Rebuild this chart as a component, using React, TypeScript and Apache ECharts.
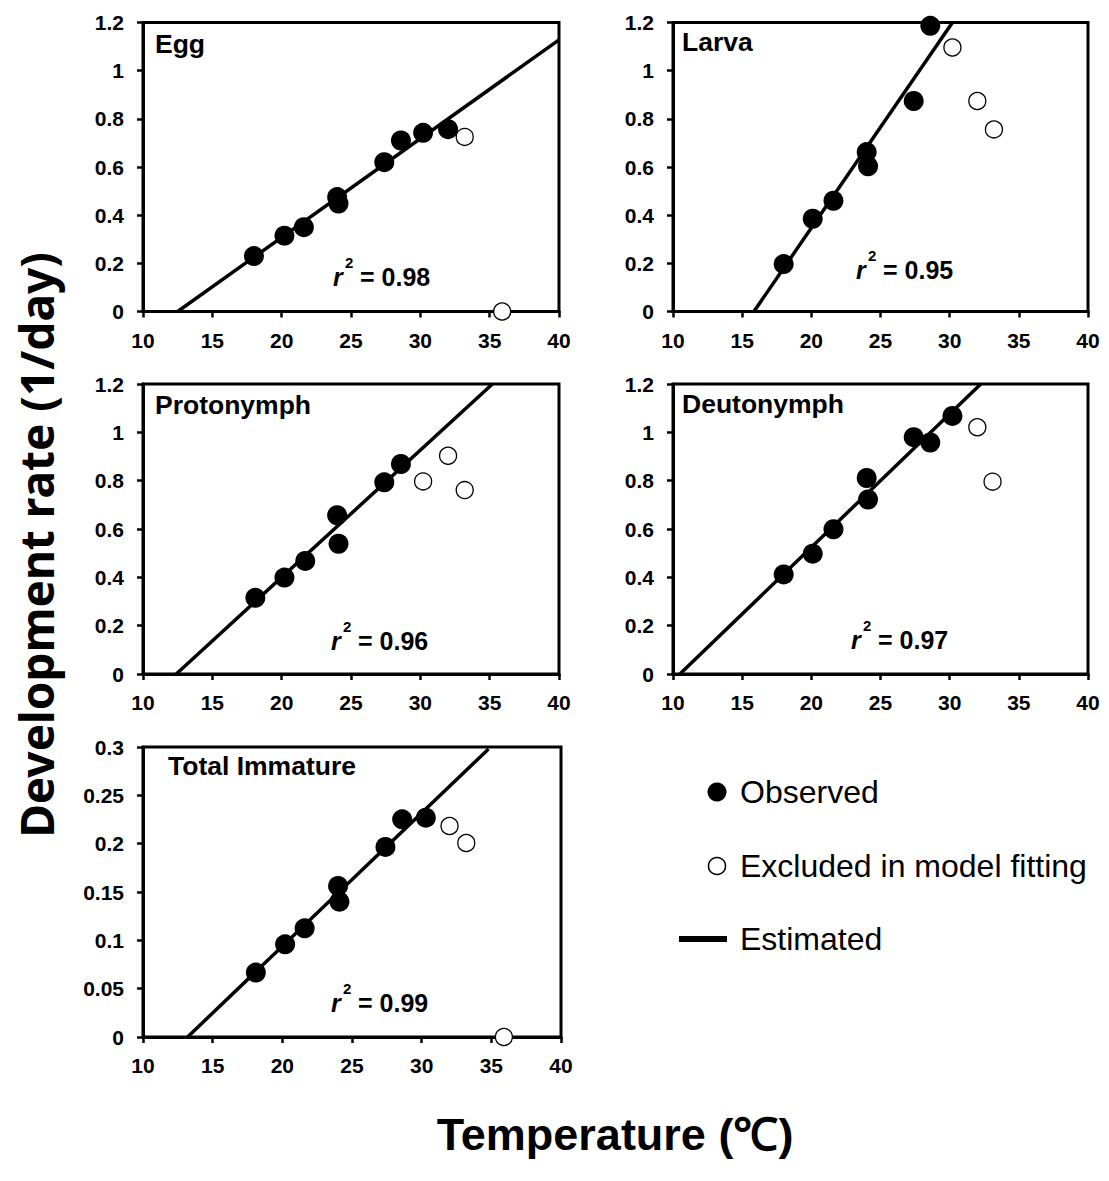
import React, { useEffect, useRef } from "react";
import * as echarts from "echarts";

// ---- Data (temperature °C, development rate 1/day) ----
const panelNames = ["Egg", "Larva", "Protonymph", "Deutonymph", "Total Immature"];
const r2Labels = ["0.98", "0.95", "0.96", "0.97", "0.99"];

const xTicks = { min: 10, max: 40, interval: 5 };
const yTicksStage = { min: 0, max: 1.2, interval: 0.2 };
const yTicksTotal = { min: 0, max: 0.3, interval: 0.05 };

const eggObserved = [[18.0, 0.23], [20.2, 0.315], [21.6, 0.35], [24.0, 0.475], [24.1, 0.448], [27.4, 0.62], [28.6, 0.71], [30.2, 0.742], [32.0, 0.757]];
const eggExcluded = [[33.2, 0.725], [35.9, 0]];
const eggEstimated = [[12.5, 0], [40, 1.128]];

const larvaObserved = [[18.0, 0.197], [20.1, 0.385], [21.6, 0.46], [24.0, 0.662], [24.1, 0.603], [27.4, 0.874], [28.6, 1.186]];
const larvaExcluded = [[30.2, 1.096], [32.0, 0.874], [33.2, 0.756]];
const larvaEstimated = [[15.85, 0], [30.2, 1.2]];

const protoObserved = [[18.1, 0.315], [20.2, 0.399], [21.7, 0.468], [24.0, 0.657], [24.1, 0.539], [27.4, 0.793], [28.6, 0.869]];
const protoExcluded = [[30.2, 0.797], [32.0, 0.903], [33.2, 0.761]];
const protoEstimated = [[12.4, 0], [35.2, 1.2]];

const deutoObserved = [[18.0, 0.412], [20.1, 0.498], [21.6, 0.599], [24.0, 0.811], [24.1, 0.722], [27.4, 0.98], [28.6, 0.958], [30.2, 1.068]];
const deutoExcluded = [[32.0, 1.021], [33.1, 0.796]];
const deutoEstimated = [[10.5, 0], [32.25, 1.2]];

const totalObserved = [[18.1, 0.0666], [20.2, 0.0959], [21.6, 0.1124], [24.0, 0.1562], [24.1, 0.14], [27.4, 0.1966], [28.6, 0.2252], [30.3, 0.2269]];
const totalExcluded = [[32.0, 0.2183], [33.2, 0.2007], [35.9, 0]];
const totalEstimated = [[13.2, 0], [34.8, 0.298]];

const observedSets = [eggObserved, larvaObserved, protoObserved, deutoObserved, totalObserved];
const excludedSets = [eggExcluded, larvaExcluded, protoExcluded, deutoExcluded, totalExcluded];
const estimatedSets = [eggEstimated, larvaEstimated, protoEstimated, deutoEstimated, totalEstimated];
const yScales = [yTicksStage, yTicksStage, yTicksStage, yTicksStage, yTicksTotal];

// ---- Layout ----
const FONT = "'Liberation Sans', Arial, sans-serif";
const grids = [
  { left: 143, top: 22.5, width: 416, height: 289 },
  { left: 673, top: 22.5, width: 415, height: 289 },
  { left: 143, top: 384, width: 416, height: 290 },
  { left: 673, top: 384, width: 415, height: 290 },
  { left: 143, top: 747, width: 418, height: 290 },
];
const titlePos = [
  [155, 44], [682, 42], [155, 405], [682, 404], [168, 766],
];
const r2Pos = [
  [360, 277], [883, 270], [358, 641], [878, 640], [358, 1003],
];

export default function App() {
  const ref = useRef<HTMLDivElement>(null);
  useEffect(() => {
    document.body.style.margin = "0";
    const chart = echarts.init(ref.current!, null, { renderer: "svg" });

    const series: any[] = [];
    for (let i = 0; i < 5; i++) {
      series.push({
        type: "line",
        xAxisIndex: i,
        yAxisIndex: i,
        data: estimatedSets[i],
        symbol: "none",
        lineStyle: { color: "#000", width: 3.5 },
        z: 2,
      });
      series.push({
        type: "scatter",
        xAxisIndex: i,
        yAxisIndex: i,
        data: observedSets[i],
        symbol: "circle",
        symbolSize: 20,
        itemStyle: { color: "#000", opacity: 1 },
        clip: false,
        z: 5,
      });
      series.push({
        type: "scatter",
        xAxisIndex: i,
        yAxisIndex: i,
        data: excludedSets[i],
        symbol: "circle",
        symbolSize: 17,
        itemStyle: { color: "#fff", borderColor: "#000", borderWidth: 1.3, opacity: 1 },
        clip: false,
        z: 6,
      });
    }

    const graphic: any[] = [];
    panelNames.forEach((name, i) => {
      graphic.push({
        type: "text",
        x: titlePos[i][0],
        y: titlePos[i][1],
        style: { text: name, font: `bold 26.5px ${FONT}`, fill: "#000", align: "left", verticalAlign: "middle" },
        z: 10,
      });
      const [x0, yc] = r2Pos[i];
      graphic.push({
        type: "text",
        x: x0 - 27,
        y: yc,
        style: { text: "r", font: `italic bold 25px ${FONT}`, fill: "#000", align: "left", verticalAlign: "middle" },
        z: 10,
      });
      graphic.push({
        type: "text",
        x: x0 - 15,
        y: yc - 15,
        style: { text: "2", font: `bold 15px ${FONT}`, fill: "#000", align: "left", verticalAlign: "middle" },
        z: 10,
      });
      graphic.push({
        type: "text",
        x: x0,
        y: yc,
        style: { text: "= " + r2Labels[i], font: `bold 25px ${FONT}`, fill: "#000", align: "left", verticalAlign: "middle" },
        z: 10,
      });
    });

    // legend
    graphic.push({ type: "circle", shape: { cx: 717, cy: 792, r: 9.5 }, style: { fill: "#000" } });
    graphic.push({ type: "circle", shape: { cx: 717, cy: 866, r: 8.5 }, style: { fill: "#fff", stroke: "#000", lineWidth: 1.5 } });
    graphic.push({ type: "line", shape: { x1: 679, y1: 939, x2: 727, y2: 939 }, style: { stroke: "#000", lineWidth: 6 } });
    [["Observed", 792], ["Excluded in model fitting", 866], ["Estimated", 939]].forEach(([t, y]) => {
      graphic.push({
        type: "text",
        x: 740,
        y: y as number,
        style: { text: t as string, font: `32px ${FONT}`, fill: "#000", align: "left", verticalAlign: "middle" },
      });
    });

    // axis titles
    graphic.push({
      type: "text",
      x: 36,
      y: 545,
      rotation: Math.PI / 2,
      style: { text: "Development rate (1/day)", font: `bold 46px 'Noto Sans', 'DejaVu Sans', sans-serif`, fill: "#000", align: "center", verticalAlign: "middle" },
    });
    graphic.push({
      type: "text",
      x: 615,
      y: 1134,
      style: { text: "Temperature (℃)", font: `bold 45px ${FONT}`, fill: "#000", align: "center", verticalAlign: "middle" },
    });

    const axisCommon = {
      axisLine: { show: true, onZero: false, lineStyle: { color: "#000", width: 3 } },
      axisTick: { show: true, inside: false, length: 6, lineStyle: { color: "#000", width: 2.5 } },
      splitLine: { show: false },
      axisLabel: { color: "#000", fontFamily: FONT, fontWeight: "bold", fontSize: 21 },
    };

    chart.setOption({
      animation: false,
      backgroundColor: "#fff",
      grid: grids.map((g) => ({ ...g, show: true, borderColor: "#000", borderWidth: 3, backgroundColor: "transparent" })),
      xAxis: grids.map((_, i) => ({
        gridIndex: i,
        type: "value",
        min: xTicks.min,
        max: xTicks.max,
        interval: xTicks.interval,
        ...axisCommon,
        axisLabel: { ...axisCommon.axisLabel, margin: 18 },
      })),
      yAxis: grids.map((_, i) => ({
        gridIndex: i,
        type: "value",
        min: yScales[i].min,
        max: yScales[i].max,
        interval: yScales[i].interval,
        ...axisCommon,
        axisLabel: { ...axisCommon.axisLabel, margin: 19 },
      })),
      series,
      graphic,
    });

    return () => chart.dispose();
  }, []);

  return <div ref={ref} style={{ width: 1109, height: 1181 }} />;
}
